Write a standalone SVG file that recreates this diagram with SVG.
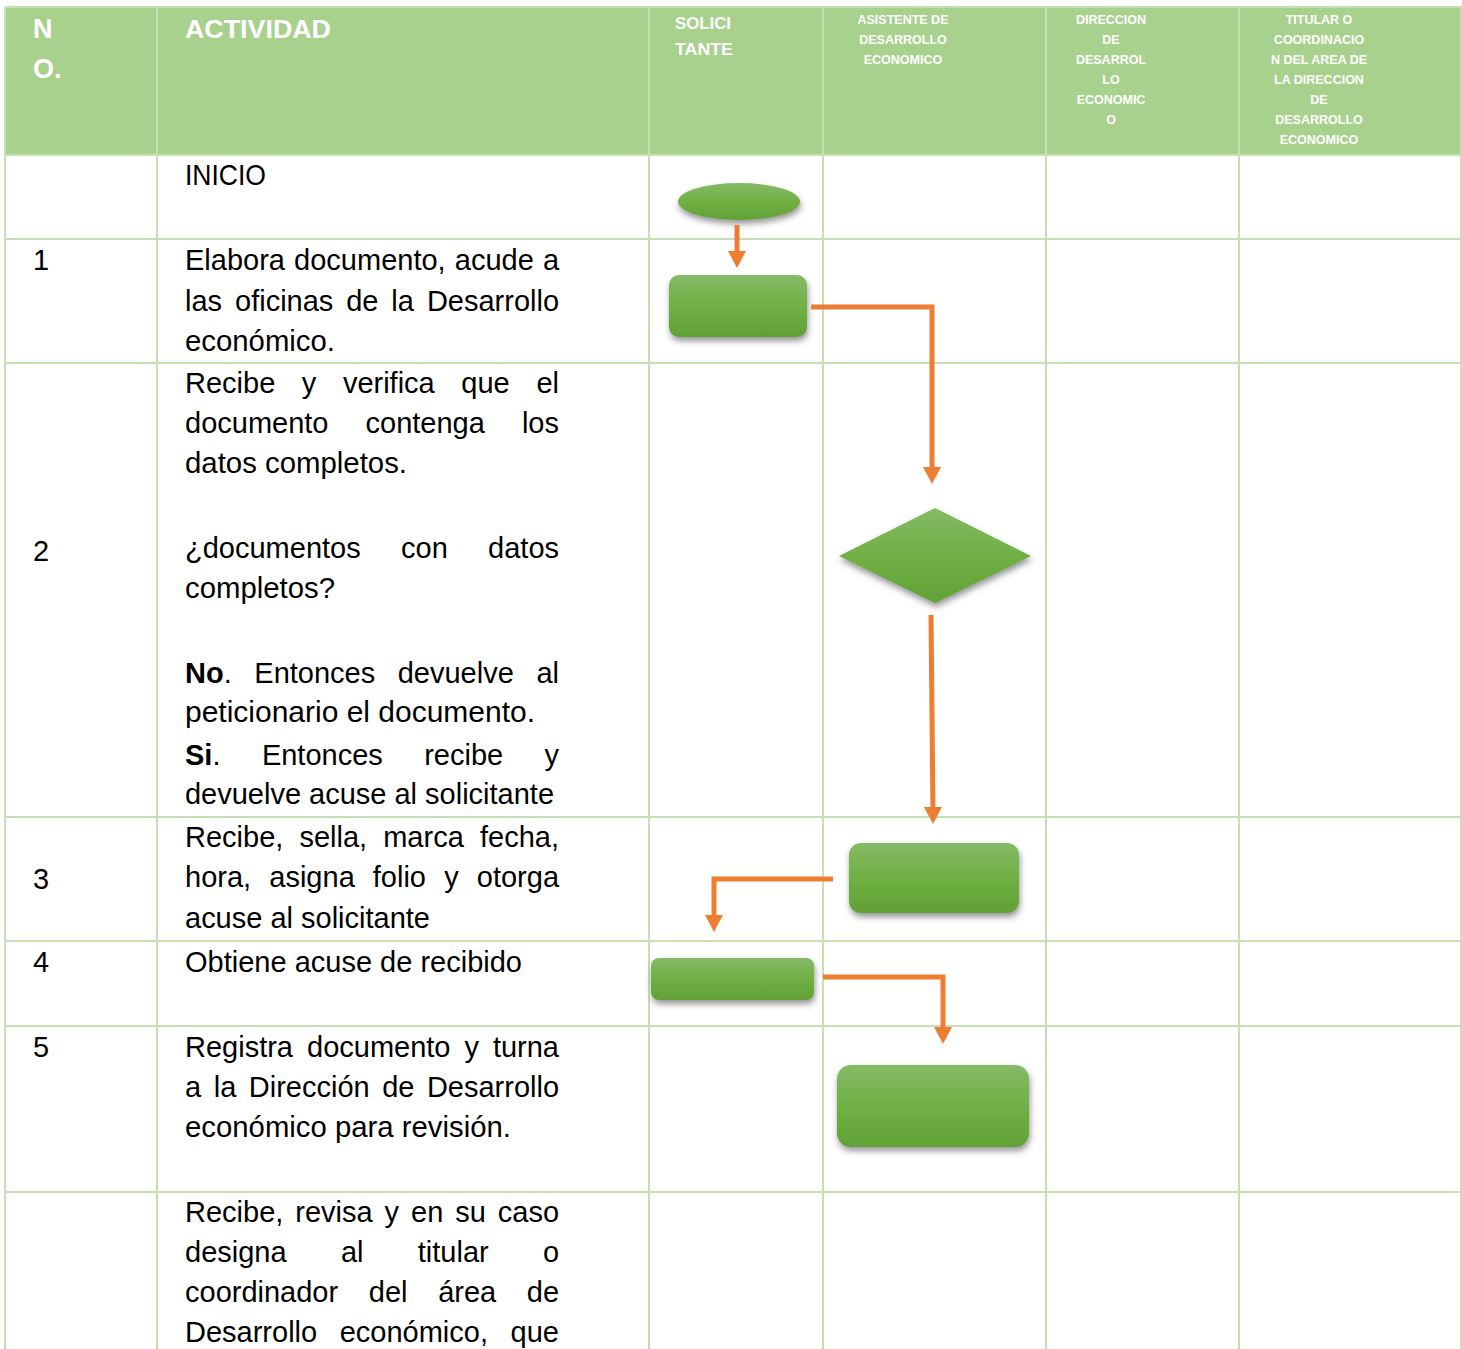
<svg xmlns="http://www.w3.org/2000/svg" width="1462" height="1349" viewBox="0 0 1462 1349">
<style>
.grid{stroke:#c5e0b3;stroke-width:2;fill:none}
.hd{font-family:"Liberation Sans",Arial,sans-serif;font-weight:bold;fill:#ffffff}
.hs{font-family:"Liberation Sans",Arial,sans-serif;font-weight:bold;fill:#ffffff;font-size:12.5px;text-anchor:middle}
.tx{font-family:"Liberation Sans",Arial,sans-serif;font-size:29px;fill:#000000}
.b{font-weight:bold}
.shape{fill:url(#gr);filter:url(#sh)}
.conn{stroke:#ed7d31;stroke-width:5;fill:none;stroke-linejoin:miter;marker-end:url(#ah)}
</style>
<defs>
<linearGradient id="gr" x1="0" y1="0" x2="0" y2="1">
<stop offset="0" stop-color="#85ba67"/>
<stop offset="0.5" stop-color="#70b044"/>
<stop offset="1" stop-color="#61a136"/>
</linearGradient>
<filter id="sh" x="-20%" y="-30%" width="150%" height="180%">
<feGaussianBlur in="SourceAlpha" stdDeviation="3"/>
<feOffset dx="1" dy="4" result="o"/>
<feFlood flood-color="#404040" flood-opacity="0.55"/>
<feComposite in2="o" operator="in"/>
<feMerge><feMergeNode/><feMergeNode in="SourceGraphic"/></feMerge>
</filter>
<marker id="ah" markerUnits="userSpaceOnUse" markerWidth="18" markerHeight="18" viewBox="0 0 18 18" refX="7" refY="9" orient="auto">
<path d="M0,0 L17,9 L0,18 z" fill="#ed7d31"/>
</marker>
</defs>
<rect x="0" y="0" width="1462" height="1349" fill="#ffffff"/>
<g id="header">
<rect x="5" y="7" width="1457" height="148" fill="#a9d18e"/>
<text class="hd" x="33" y="38" font-size="27">N</text>
<text class="hd" x="33" y="78" font-size="27">O.</text>
<text class="hd" x="185" y="38" font-size="26" textLength="146" lengthAdjust="spacingAndGlyphs">ACTIVIDAD</text>
<text class="hd" x="675" y="29" font-size="17" textLength="56" lengthAdjust="spacingAndGlyphs">SOLICI</text>
<text class="hd" x="675" y="55" font-size="17" textLength="58" lengthAdjust="spacingAndGlyphs">TANTE</text>
<text class="hs" x="903" y="24">ASISTENTE DE</text>
<text class="hs" x="903" y="44">DESARROLLO</text>
<text class="hs" x="903" y="64">ECONOMICO</text>
<text class="hs" x="1111" y="24">DIRECCION</text>
<text class="hs" x="1111" y="44">DE</text>
<text class="hs" x="1111" y="64">DESARROL</text>
<text class="hs" x="1111" y="84">LO</text>
<text class="hs" x="1111" y="104">ECONOMIC</text>
<text class="hs" x="1111" y="124">O</text>
<text class="hs" x="1319" y="24">TITULAR O</text>
<text class="hs" x="1319" y="44">COORDINACIO</text>
<text class="hs" x="1319" y="64">N DEL AREA DE</text>
<text class="hs" x="1319" y="84">LA DIRECCION</text>
<text class="hs" x="1319" y="104">DE</text>
<text class="hs" x="1319" y="124">DESARROLLO</text>
<text class="hs" x="1319" y="144">ECONOMICO</text>
</g>
<g id="grid">
<line class="grid" x1="5" y1="7" x2="1462" y2="7"/>
<line class="grid" x1="5" y1="155" x2="1462" y2="155"/>
<line class="grid" x1="5" y1="239" x2="1462" y2="239"/>
<line class="grid" x1="5" y1="363" x2="1462" y2="363"/>
<line class="grid" x1="5" y1="817" x2="1462" y2="817"/>
<line class="grid" x1="5" y1="941" x2="1462" y2="941"/>
<line class="grid" x1="5" y1="1026" x2="1462" y2="1026"/>
<line class="grid" x1="5" y1="1192" x2="1462" y2="1192"/>
<line class="grid" x1="5" y1="7" x2="5" y2="1349"/>
<line class="grid" x1="157" y1="7" x2="157" y2="1349"/>
<line class="grid" x1="649" y1="7" x2="649" y2="1349"/>
<line class="grid" x1="823" y1="7" x2="823" y2="1349"/>
<line class="grid" x1="1046" y1="7" x2="1046" y2="1349"/>
<line class="grid" x1="1239" y1="7" x2="1239" y2="1349"/>
<line class="grid" x1="1461" y1="7" x2="1461" y2="1349"/>
</g>
<g id="texts">
<text class="tx" x="185" y="185" textLength="81" lengthAdjust="spacingAndGlyphs">INICIO</text>
<text class="tx" x="33" y="270">1</text>
<text class="tx" y="270"><tspan x="185">Elabora</tspan><tspan x="294.1">documento,</tspan><tspan x="454.8">acude</tspan><tspan x="542.9">a</tspan></text>
<text class="tx" y="311"><tspan x="185">las</tspan><tspan x="235">oficinas</tspan><tspan x="346.2">de</tspan><tspan x="391.3">la</tspan><tspan x="426.9">Desarrollo</tspan></text>
<text class="tx" x="185" y="351" textLength="150" lengthAdjust="spacingAndGlyphs">económico.</text>
<text class="tx" y="393"><tspan x="185">Recibe</tspan><tspan x="301.8">y</tspan><tspan x="342.9">verifica</tspan><tspan x="461.3">que</tspan><tspan x="536.4">el</tspan></text>
<text class="tx" y="433"><tspan x="185">documento</tspan><tspan x="365.5">contenga</tspan><tspan x="521.9">los</tspan></text>
<text class="tx" x="185" y="473" textLength="222" lengthAdjust="spacingAndGlyphs">datos completos.</text>
<text class="tx" x="33" y="561">2</text>
<text class="tx" y="558"><tspan x="185">¿documentos</tspan><tspan x="401.1">con</tspan><tspan x="488.1">datos</tspan></text>
<text class="tx" x="185" y="598" textLength="150" lengthAdjust="spacingAndGlyphs">completos?</text>
<text class="tx" y="683"><tspan x="185" class="b">No</tspan><tspan>.</tspan><tspan x="254.3">Entonces</tspan><tspan x="397.7">devuelve</tspan><tspan x="536.4">al</tspan></text>
<text class="tx" x="185" y="722" textLength="350" lengthAdjust="spacingAndGlyphs">peticionario el documento.</text>
<text class="tx" y="765"><tspan x="185" class="b">Si</tspan><tspan>.</tspan><tspan x="261.9">Entonces</tspan><tspan x="424.2">recibe</tspan><tspan x="544.5">y</tspan></text>
<text class="tx" x="185" y="804" textLength="369" lengthAdjust="spacingAndGlyphs">devuelve acuse al solicitante</text>
<text class="tx" x="33" y="889">3</text>
<text class="tx" y="847"><tspan x="185">Recibe,</tspan><tspan x="299.4">sella,</tspan><tspan x="383.2">marca</tspan><tspan x="480">fecha,</tspan></text>
<text class="tx" y="887"><tspan x="185">hora,</tspan><tspan x="269.3">asigna</tspan><tspan x="372.8">folio</tspan><tspan x="444.2">y</tspan><tspan x="476.8">otorga</tspan></text>
<text class="tx" x="185" y="928" textLength="245" lengthAdjust="spacingAndGlyphs">acuse al solicitante</text>
<text class="tx" x="33" y="972">4</text>
<text class="tx" x="185" y="972" textLength="337" lengthAdjust="spacingAndGlyphs">Obtiene acuse de recibido</text>
<text class="tx" x="33" y="1057">5</text>
<text class="tx" y="1057"><tspan x="185">Registra</tspan><tspan x="307">documento</tspan><tspan x="464.5">y</tspan><tspan x="492.9">turna</tspan></text>
<text class="tx" y="1097"><tspan x="185">a</tspan><tspan x="213.7">la</tspan><tspan x="248.8">Dirección</tspan><tspan x="382.2">de</tspan><tspan x="426.9">Desarrollo</tspan></text>
<text class="tx" x="185" y="1137" textLength="326" lengthAdjust="spacingAndGlyphs">económico para revisión.</text>
<text class="tx" y="1222"><tspan x="185">Recibe,</tspan><tspan x="295.3">revisa</tspan><tspan x="384.6">y</tspan><tspan x="411.1">en</tspan><tspan x="455.3">su</tspan><tspan x="497.8">caso</tspan></text>
<text class="tx" y="1262"><tspan x="185">designa</tspan><tspan x="340.9">al</tspan><tspan x="417.8">titular</tspan><tspan x="542.9">o</tspan></text>
<text class="tx" y="1302"><tspan x="185">coordinador</tspan><tspan x="368.8">del</tspan><tspan x="438.2">área</tspan><tspan x="526.8">de</tspan></text>
<text class="tx" y="1342"><tspan x="185">Desarrollo</tspan><tspan x="339.7">económico,</tspan><tspan x="510.6">que</tspan></text>
</g>
<g id="n-inicio"><ellipse class="shape" cx="739" cy="201.5" rx="61" ry="18.5"/></g>
<g id="n-elabora"><rect class="shape" x="669" y="275" width="138" height="62" rx="10"/></g>
<g id="n-decision"><polygon class="shape" points="935,508 1031,556 935,603 839,556"/></g>
<g id="n-recibe"><rect class="shape" x="849" y="843" width="170" height="70" rx="12"/></g>
<g id="n-obtiene"><rect class="shape" x="651" y="958" width="163" height="42" rx="8"/></g>
<g id="n-registra"><rect class="shape" x="837" y="1065" width="192" height="82" rx="14"/></g>
<g id="connectors">
<path class="conn" d="M737,225 V258"/>
<path class="conn" d="M811,307 H932 V474"/>
<path class="conn" d="M931,615 L933,814"/>
<path class="conn" d="M833,879 H714 V922"/>
<path class="conn" d="M823,977 H943 V1034"/>
</g>
</svg>
